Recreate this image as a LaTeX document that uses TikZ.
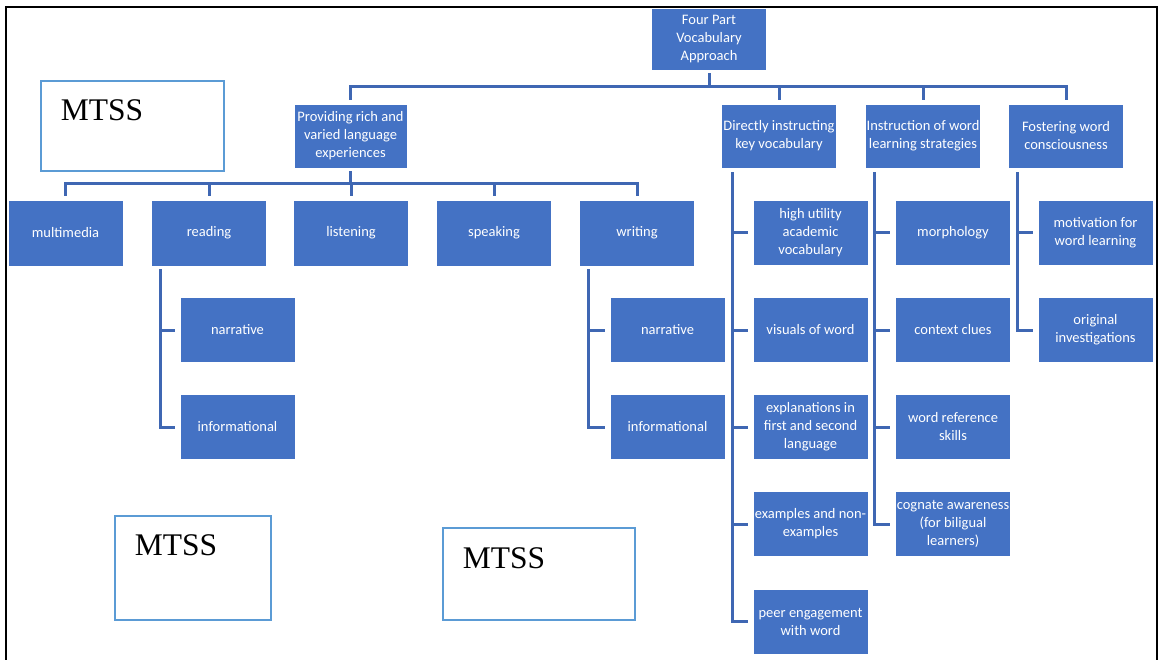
\documentclass[tikz,border=0pt]{standalone}
\usepackage{fontspec}
\setmainfont{Liberation Serif}
\newfontfamily\boxfont{Carlito}
\definecolor{boxblue}{HTML}{4472C4}
\definecolor{linkblue}{HTML}{3F67B3}
\definecolor{mtssblue}{HTML}{5B9BD5}
\begin{document}
\begin{tikzpicture}[x=1pt,y=-1pt,
  cbox/.style={fill=boxblue, draw=white, line width=0.6pt, minimum width=115pt, minimum height=65pt, inner sep=1pt, text=white, align=center, font=\boxfont\fontsize{14.5}{18}\selectfont},
  conn/.style={draw=linkblue, line width=3pt},
  mtss/.style={draw=mtssblue, line width=2.5pt, fill=white, inner sep=0pt},
  mtsstext/.style={anchor=base west, inner sep=0pt, font=\fontsize{31.5}{36}\selectfont}]
\useasboundingbox (0,0) rectangle (1158,660);
% frame
\draw[line width=2pt] (6,660) -- (6,7) -- (1157,7) -- (1157,660);
% level 0 and 1
\node[cbox, minimum height=62pt] (root) at (709,39) {Four Part\\Vocabulary\\Approach};
\node[cbox, minimum width=113pt, minimum height=64pt] (prov) at (350.5,136) {Providing rich and\\varied language\\experiences};
\node[cbox, minimum height=64pt] (dir) at (779,136) {Directly instructing\\key vocabulary};
\node[cbox, minimum height=64pt] (inst) at (923,136) {Instruction of word\\learning strategies};
\node[cbox, minimum height=64pt] (fost) at (1066,136) {Fostering word\\consciousness};
% providing children
\node[cbox, minimum height=66pt] (mm) at (65.5,233) {multimedia};
\node[cbox, minimum height=66pt] (rd) at (209,233) {reading};
\node[cbox, minimum height=66pt] (ls) at (351,233) {listening};
\node[cbox, minimum height=66pt] (sp) at (494,233) {speaking};
\node[cbox, minimum height=66pt] (wr) at (637,233) {writing};
\node[cbox] (rn) at (237.5,330) {narrative};
\node[cbox] (ri) at (237.5,427) {informational};
\node[cbox] (wn) at (667.5,330) {narrative};
\node[cbox] (wi) at (667.5,427) {informational};
% directly children
\node[cbox] (d1) at (810.5,233) {high utility\\academic\\vocabulary};
\node[cbox] (d2) at (810.5,330) {visuals of word};
\node[cbox] (d3) at (810.5,427) {explanations in\\first and second\\language};
\node[cbox] (d4) at (810.5,524) {examples and non-\\examples};
\node[cbox] (d5) at (810.5,621.5) {peer engagement\\with word};
% instruction children
\node[cbox] (i1) at (953,233) {morphology};
\node[cbox] (i2) at (953,330) {context clues};
\node[cbox] (i3) at (953,427) {word reference\\skills};
\node[cbox] (i4) at (953,524) {cognate awareness\\(for biligual\\learners)};
% fostering children
\node[cbox] (f1) at (1095.5,233) {motivation for\\word learning};
\node[cbox] (f2) at (1095.5,330) {original\\investigations};
% connectors level 0 -> 1
\foreach \c in {prov,dir,inst,fost}
  \draw[conn, shorten <=3pt, shorten >=4pt] (root.south) -- ++(0,16) -| (\c.north);
% providing -> children
\foreach \c in {mm,rd,ls,sp,wr}
  \draw[conn, shorten <=3pt, shorten >=4pt] (prov.south) -- ++(0,15) -| (\c.north);
% side branches
\coordinate (rtop) at ([xshift=9pt,yshift=-3pt]rd.south west);
\coordinate (wtop) at ([xshift=9pt,yshift=-3pt]wr.south west);
\coordinate (dtop) at ([xshift=11pt,yshift=-4pt]dir.south west);
\coordinate (itop) at ([xshift=9pt,yshift=-4pt]inst.south west);
\coordinate (ftop) at ([xshift=9pt,yshift=-4pt]fost.south west);
\foreach \c in {rn,ri} \draw[conn, shorten >=5pt] (rtop) |- (\c.west);
\foreach \c in {wn,wi} \draw[conn, shorten >=5pt] (wtop) |- (\c.west);
\foreach \c in {d1,d2,d3,d4,d5} \draw[conn, shorten >=5pt] (dtop) |- (\c.west);
\foreach \c in {i1,i2,i3,i4} \draw[conn, shorten >=5pt] (itop) |- (\c.west);
\foreach \c in {f1,f2} \draw[conn, shorten >=5pt] (ftop) |- (\c.west);
% MTSS boxes
\node[mtss, minimum width=183pt, minimum height=90pt] (m1) at (132.5,126) {};
\node[mtsstext] (t1) at ([xshift=21pt,yshift=-41pt]m1.north west) {MTSS};
\node[mtss, minimum width=156pt, minimum height=104pt] (m2) at (193,568) {};
\node[mtsstext] (t2) at ([xshift=21pt,yshift=-41pt]m2.north west) {MTSS};
\node[mtss, minimum width=192pt, minimum height=92pt] (m3) at (539,574) {};
\node[mtsstext] (t3) at ([xshift=21pt,yshift=-42pt]m3.north west) {MTSS};
\end{tikzpicture}
\end{document}
